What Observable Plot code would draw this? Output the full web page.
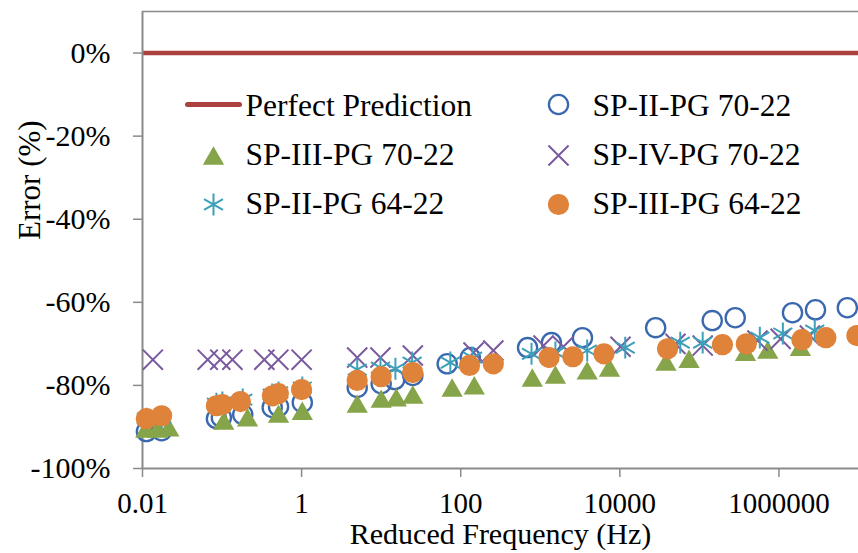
<!DOCTYPE html>
<html><head><meta charset="utf-8">
<script src="https://cdn.jsdelivr.net/npm/d3@7"></script>
<script src="https://cdn.jsdelivr.net/npm/@observablehq/plot@0.6"></script>
<style>html,body{margin:0;padding:0;background:#fff}#chart svg{display:block}</style>
</head><body><div id="chart"></div>
<script>
// ---- axis ticks ----
const xTicks = [0.01, 1, 100, 10000, 1000000];
const xTickLabels = ["0.01", "1", "100", "10000", "1000000"];
const yTicks = [-100, -80, -60, -40, -20, 0];
const yTickLabels = ["-100%", "-80%", "-60%", "-40%", "-20%", "0%"];
const xDomain = [0.01, 1e7];
const yDomain = [-100, 10];
const perfectPrediction = [0];

// ---- series (reduced frequency in Hz, error in %) ----
const legendNames = ["Perfect Prediction", "SP-II-PG 70-22", "SP-III-PG 70-22", "SP-IV-PG 70-22", "SP-II-PG 64-22", "SP-III-PG 64-22"];

const sp2_70_freq = [0.0112, 0.0174, 0.085, 0.098, 0.182, 0.427, 0.513, 1.02, 5.0, 10, 14.8, 25, 67.6, 132, 692, 1380, 3390, 28200, 145000, 282000, 1480000, 2880000, 7240000];
const sp2_70_err  = [-91.1, -90.9, -88.0, -87.7, -87.0, -85.3, -85.1, -84.1, -80.5, -79.6, -78.6, -77.6, -74.8, -73.3, -70.9, -69.7, -68.5, -66.1, -64.4, -63.7, -62.5, -61.8, -61.3];

const sp3_70_freq = [0.011, 0.0155, 0.0214, 0.105, 0.209, 0.513, 1.02, 5.0, 10, 15.5, 25, 78, 148, 794, 1550, 3890, 7410, 38000, 74100, 380000, 724000, 1860000];
const sp3_70_err  = [-90.4, -90.4, -90.1, -88.5, -87.7, -86.8, -86.1, -84.4, -83.2, -82.9, -82.2, -80.5, -80.0, -78.1, -77.4, -76.4, -75.7, -74.3, -73.6, -71.9, -71.4, -70.7];

const sp4_70_freq = [0.0135, 0.066, 0.095, 0.135, 0.34, 0.51, 1.0, 5.0, 9.8, 25, 145, 257, 1100, 1950, 10200, 50000, 110000, 537000, 1050000, 2450000];
const sp4_70_err  = [-73.8, -73.8, -73.8, -73.8, -73.8, -73.8, -73.8, -73.3, -73.3, -72.8, -72.1, -71.6, -70.4, -70.7, -70.7, -70.0, -70.4, -69.2, -68.8, -68.0];

const sp2_64_freq = [0.0112, 0.0174, 0.085, 0.101, 0.182, 0.427, 0.513, 1.02, 5.0, 9.8, 15.1, 24.5, 74, 141, 776, 1550, 3890, 11700, 57500, 110000, 575000, 1120000, 2820000];
const sp2_64_err  = [-88.0, -87.7, -84.4, -84.1, -83.4, -82.2, -81.7, -80.5, -76.2, -75.7, -76.0, -74.5, -74.5, -73.3, -72.4, -72.1, -71.6, -70.9, -69.7, -69.7, -68.5, -67.5, -66.8];

const sp3_64_freq = [0.0112, 0.0174, 0.085, 0.101, 0.17, 0.43, 0.51, 1.0, 5.0, 10, 25, 129, 257, 1290, 2570, 6310, 39800, 195000, 389000, 1950000, 3890000, 9550000];
const sp3_64_err  = [-88.0, -87.3, -84.9, -84.6, -83.9, -82.5, -82.0, -81.0, -78.8, -77.9, -76.9, -75.2, -74.8, -73.3, -73.1, -72.4, -71.2, -70.2, -70.0, -69.0, -68.5, -68.0];

// ---- styles ----
const red = "#AB423F", blue = "#3A68AE", green = "#86A449", purple = "#7A5A9E", teal = "#3DA0B9", orange = "#DF823A";
const gray = "#8a8a8a";
const font = "'Liberation Serif', 'Times New Roman', serif";
const rows = (f, e) => f.map((v, i) => ({f: v, e: e[i]}));
const hline = {draw(ctx) { ctx.moveTo(-26, 0); ctx.lineTo(26, 0); }};

const marker = {
  circleOpen: {symbol: "circle", r: 9.6, stroke: blue, strokeWidth: 2.3, fill: "none"},
  triangle: {symbol: "triangle", r: 7.9, fill: green, stroke: "none"},
  times: {symbol: "times", r: 9.2, stroke: purple, strokeWidth: 2, fill: "none"},
  asterisk: {symbol: "asterisk", r: 10.4, stroke: teal, strokeWidth: 2, fill: "none"},
  circleFill: {symbol: "circle", r: 10.6, fill: orange, stroke: "none"}
};

// legend layout (offsets from plot frame top-left)
const legCol = [{m: 71, t: 103}, {m: 416, t: 450}];
const legRowMarker = [93, 144, 193];
const legRowText = [104, 153.5, 202.5];
const legendItems = [
  {col: 0, row: 0, mk: null},
  {col: 1, row: 0, mk: marker.circleOpen},
  {col: 0, row: 1, mk: marker.triangle, dy: 3},
  {col: 1, row: 1, mk: marker.times},
  {col: 0, row: 2, mk: marker.asterisk},
  {col: 1, row: 2, mk: marker.circleFill}
];

const legendMarks = [];
legendItems.forEach((it, i) => {
  const dx = legCol[it.col].m, dy = legRowMarker[it.row];
  if (it.mk) legendMarks.push(Plot.dot([0], {frameAnchor: "top-left", dx, dy: dy + (it.dy || 0), ...it.mk}));
  else legendMarks.push(Plot.dot([0], {frameAnchor: "top-left", dx, dy, symbol: hline, r: 5, stroke: red, strokeWidth: 5, strokeLinecap: "round", fill: "none"}));
  legendMarks.push(Plot.text([legendNames[i]], {frameAnchor: "top-left", text: d => d, dx: legCol[it.col].t, dy: legRowText[it.row], textAnchor: "start", lineAnchor: "bottom", fontSize: 31.5, fill: "#000"}));
});

const plot = Plot.plot({
  width: 858, height: 553,
  marginLeft: 142, marginRight: 0, marginTop: 11, marginBottom: 85,
  style: {fontFamily: font, background: "#fff", color: "#000"},
  x: {type: "log", domain: xDomain},
  y: {domain: yDomain},
  marks: [
    Plot.ruleY([yDomain[1]], {stroke: gray, strokeWidth: 1.5}),
    Plot.ruleY(perfectPrediction, {stroke: red, strokeWidth: 4.5}),
    Plot.axisY({ticks: yTicks, tickFormat: d => yTickLabels[yTicks.indexOf(d)], tickSize: 9, tickPadding: 23, fontSize: 30, stroke: gray, strokeWidth: 1.5, fill: "#000", label: null}),
    Plot.axisX({ticks: xTicks, tickFormat: d => xTickLabels[xTicks.indexOf(d)], tickSize: 9, tickPadding: 15, fontSize: 29, stroke: gray, strokeWidth: 1.5, fill: "#000", label: null}),
    Plot.ruleX([xDomain[0]], {stroke: gray, strokeWidth: 2}),
    Plot.ruleY([yDomain[0]], {stroke: gray, strokeWidth: 2}),
    Plot.dot(rows(sp2_70_freq, sp2_70_err), {x: "f", y: "e", ...marker.circleOpen}),
    Plot.dot(rows(sp3_70_freq, sp3_70_err), {x: "f", y: "e", dy: 3, ...marker.triangle}),
    Plot.dot(rows(sp4_70_freq, sp4_70_err), {x: "f", y: "e", ...marker.times}),
    Plot.dot(rows(sp2_64_freq, sp2_64_err), {x: "f", y: "e", ...marker.asterisk}),
    Plot.dot(rows(sp3_64_freq, sp3_64_err), {x: "f", y: "e", ...marker.circleFill}),
    ...legendMarks,
    Plot.text(["Reduced Frequency (Hz)"], {frameAnchor: "bottom", text: d => d, dy: 75, lineAnchor: "bottom", fontSize: 30, fill: "#000"}),
    Plot.text(["Error (%)"], {frameAnchor: "left", text: d => d, rotate: -90, dx: -103, lineAnchor: "bottom", fontSize: 31, fill: "#000"})
  ]
});
document.getElementById("chart").appendChild(plot);
</script>
</body></html>
